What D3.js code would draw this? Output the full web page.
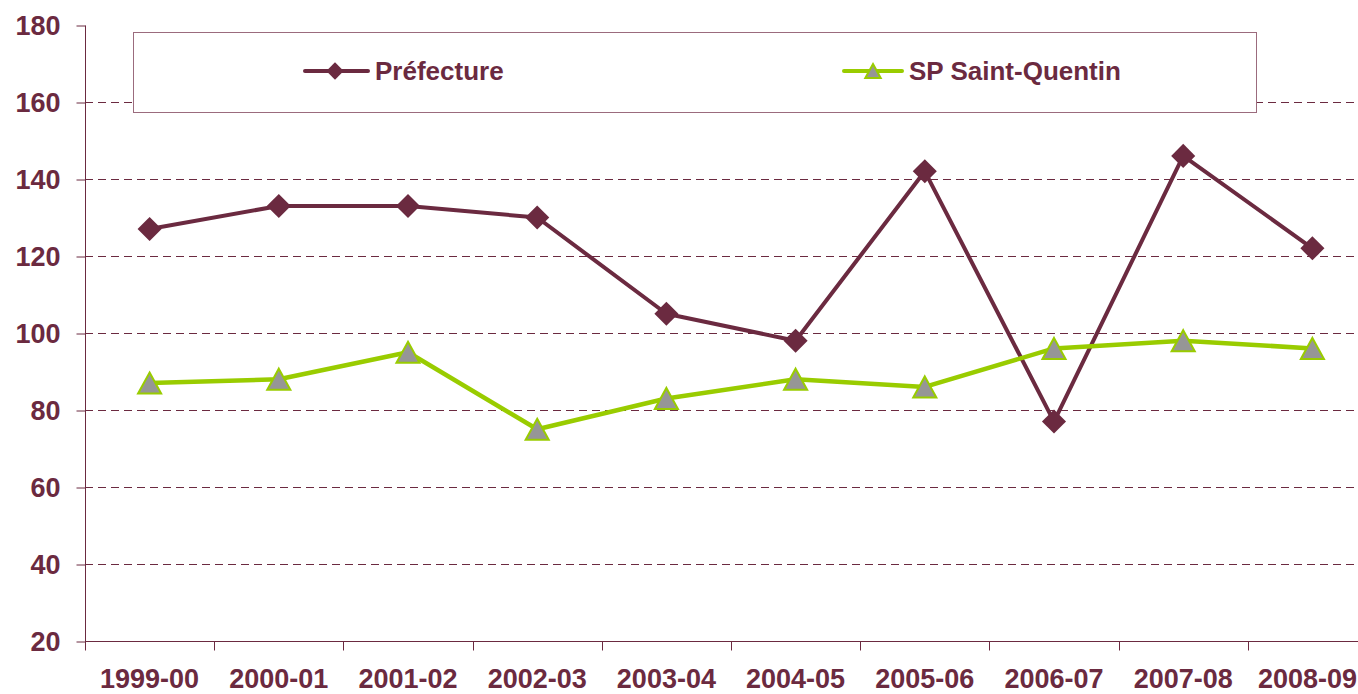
<!DOCTYPE html>
<html>
<head>
<meta charset="utf-8">
<script src="https://cdn.jsdelivr.net/npm/d3@7"></script>
<style>
    body { margin: 0; background: #fff; }
    text { font-family: "Liberation Sans", Arial, sans-serif; font-weight: bold; fill: #6b2a40; }
</style>
</head>
<body>
<script>
// Evolution chart: Préfecture vs SP Saint-Quentin
const years = ["1999-00", "2000-01", "2001-02", "2002-03", "2003-04",
               "2004-05", "2005-06", "2006-07", "2007-08", "2008-09"];
const prefecture = [127, 133, 133, 130, 105, 98, 142, 77, 146, 122];
const saintQuentin = [87, 88, 95, 75, 83, 88, 86, 96, 98, 96];
const yTicks = [20, 40, 60, 80, 100, 120, 140, 160, 180];

const svgWidth = 1358;
const svgHeight = 694;

const maroon = "#6b2a40";
const green = "#99cc00";

let svg = d3.select("body")
    .append("svg")
    .attr("width", svgWidth)
    .attr("height", svgHeight);

// plot area: left axis at x=85, bottom axis at y=641, runs past the right edge
const x = d3.scaleBand()
    .domain(years)
    .range([85, 85 + 10 * 129.2])
    .padding(0);

const y = d3.scaleLinear()
    .domain([20, 180])
    .range([641, 25]);

const cx = d => x(d) + x.bandwidth() / 2;

// dashed gridlines
svg.append("g")
    .selectAll("line")
    .data(yTicks.filter(t => t > 20 && t < 180))
    .enter()
    .append("line")
    .attr("x1", 85)
    .attr("x2", svgWidth)
    .attr("y1", d => Math.round(y(d)) + 0.5)
    .attr("y2", d => Math.round(y(d)) + 0.5)
    .attr("stroke", maroon)
    .attr("stroke-width", 1)
    .attr("stroke-dasharray", "8,5");

// y axis
let leftAxis = d3.axisLeft(y)
    .tickValues(yTicks)
    .tickSize(9)
    .tickPadding(16);
let yAxis = svg.append("g")
    .attr("transform", "translate(85.5,0.5)")
    .call(leftAxis);
yAxis.select(".domain").attr("stroke", maroon).attr("d", `M0,${y(180)}V${y(20)}`);
yAxis.selectAll(".tick line").attr("stroke", maroon);
yAxis.selectAll(".tick text")
    .attr("font-size", "27px")
    .attr("fill", maroon)
    .attr("font-family", "Liberation Sans, Arial, sans-serif")
    .attr("font-weight", "bold");

// x axis (labels centred in bands, ticks on band edges)
let bottomAxis = d3.axisBottom(x)
    .tickSize(0)
    .tickPadding(27);
let xAxis = svg.append("g")
    .attr("transform", "translate(0,641.5)")
    .call(bottomAxis);
xAxis.select(".domain").attr("stroke", maroon).attr("d", `M85,0H${svgWidth}`);
xAxis.selectAll(".tick text")
    .attr("font-size", "27px")
    .attr("fill", maroon)
    .attr("font-family", "Liberation Sans, Arial, sans-serif")
    .attr("font-weight", "bold");
// keep the last label inside the picture
xAxis.selectAll(".tick text").each(function(d) {
    let right = cx(d) + this.getComputedTextLength() / 2;
    if (right > svgWidth - 1) {
        d3.select(this).attr("x", svgWidth - 1 - right);
    }
});
xAxis.selectAll(".edge")
    .data(years)
    .enter()
    .append("line")
    .attr("x1", d => Math.round(x(d)) + 0.5)
    .attr("x2", d => Math.round(x(d)) + 0.5)
    .attr("y1", 0)
    .attr("y2", 9)
    .attr("stroke", maroon);

// legend box
let legend = svg.append("g");
legend.append("rect")
    .attr("x", 133.5)
    .attr("y", 32.5)
    .attr("width", 1123)
    .attr("height", 80)
    .attr("fill", "#fff")
    .attr("stroke", "#9b6b7d");

const diamond = d3.symbol().type(d3.symbolSquare);
const triangle = s => `M0,${-s / 2}L${s * 0.55},${s / 2}L${-s * 0.55},${s / 2}Z`;

// series lines
const line = vals => d3.line()
    .x((d, i) => cx(years[i]))
    .y(d => y(d))(vals);

svg.append("path")
    .attr("d", line(prefecture))
    .attr("fill", "none")
    .attr("stroke", maroon)
    .attr("stroke-width", 4)
    .attr("stroke-linejoin", "round");

svg.append("g")
    .selectAll("path")
    .data(prefecture)
    .enter()
    .append("path")
    .attr("d", diamond.size(290))
    .attr("transform", (d, i) => `translate(${cx(years[i])},${y(d)}) rotate(45)`)
    .attr("fill", maroon);

svg.append("path")
    .attr("d", line(saintQuentin))
    .attr("fill", "none")
    .attr("stroke", green)
    .attr("stroke-width", 4.5)
    .attr("stroke-linejoin", "round");

svg.append("g")
    .selectAll("path")
    .data(saintQuentin)
    .enter()
    .append("path")
    .attr("d", triangle(21))
    .attr("transform", (d, i) => `translate(${cx(years[i])},${y(d)})`)
    .attr("fill", "#969696")
    .attr("stroke", green)
    .attr("stroke-width", 2);

// legend entries
legend.append("line")
    .attr("x1", 305).attr("x2", 368)
    .attr("y1", 71).attr("y2", 71)
    .attr("stroke", maroon)
    .attr("stroke-width", 4)
    .attr("stroke-linecap", "round");
legend.append("path")
    .attr("d", diamond.size(150))
    .attr("transform", "translate(335,71) rotate(45)")
    .attr("fill", maroon);
legend.append("text")
    .attr("x", 375)
    .attr("y", 80)
    .attr("font-size", "26px")
    .text("Préfecture");

legend.append("line")
    .attr("x1", 844).attr("x2", 902)
    .attr("y1", 71).attr("y2", 71)
    .attr("stroke", green)
    .attr("stroke-width", 4)
    .attr("stroke-linecap", "round");
legend.append("path")
    .attr("d", triangle(14))
    .attr("transform", "translate(873,71)")
    .attr("fill", "#969696")
    .attr("stroke", green)
    .attr("stroke-width", 2);
legend.append("text")
    .attr("x", 909)
    .attr("y", 80)
    .attr("font-size", "26px")
    .text("SP Saint-Quentin");
</script>
</body>
</html>
